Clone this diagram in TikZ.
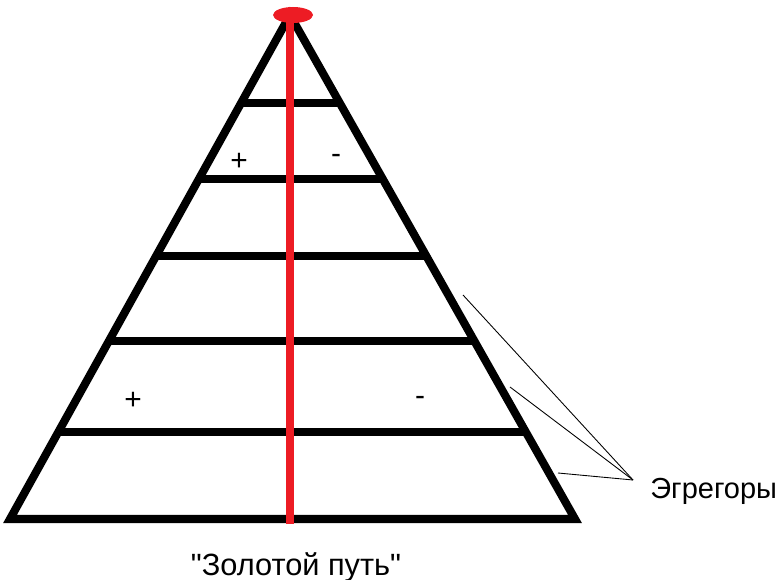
\documentclass[tikz,border=0pt]{standalone}
\usepackage{fontspec}
\setmainfont{Liberation Sans}
\usetikzlibrary{positioning, calc}
\definecolor{paintred}{HTML}{ED1C24}

\begin{document}
\begin{tikzpicture}[
    x=0.02cm, y=-0.02cm,
    wall/.style={line width=4.6pt, line join=miter, line cap=butt},
    rung/.style={line width=4.6pt},
    path/.style={draw=paintred, line width=4.6pt},
    leader/.style={line width=0.5pt},
    sign/.style={inner sep=0pt, font=\fontsize{17}{17}\selectfont},
    caption/.style={inner sep=0pt, anchor=base west, font=\fontsize{16.5}{19}\selectfont}
]
\useasboundingbox (0,0) rectangle (780,580);

% pyramid corners
\coordinate (apex) at (290,15);
\coordinate (bl) at (10,519);
\coordinate (br) at (575,519);
\coordinate (foot) at (290,524);

\draw[wall] (apex) -- (bl) -- (br) -- cycle;
\foreach \y in {103,179,256,341,432}
    \draw[rung] ($(apex)!{(\y-15)/504}!(bl)$) -- ($(apex)!{(\y-15)/504}!(br)$);

% golden path
\draw[path] (apex) -- (foot);
\fill[paintred] (293,15) ellipse [x radius=20, y radius=8];

% signs
\node[sign] (p1) at (239,162) {+};
\node[sign] (m1) at (336,159) {-};
\node[sign] (p2) at (133,401) {+};
\node[sign] (m2) at (420,401) {-};

% egregors
\node[caption] (egr) at (650,498) {Эгрегоры};
\coordinate (hub) at (633,480);
\coordinate (e1) at (463,295);
\coordinate (e2) at (510,387);
\coordinate (e3) at (558,473);
\draw[leader] (hub) -- (e1);
\draw[leader] (hub) -- (e2);
\draw[leader] (hub) -- (e3);

\node[caption, anchor=base, font=\fontsize{17.5}{20}\selectfont] (gold) at (296,575) {\textquotedbl Золотой путь\textquotedbl};
\end{tikzpicture}
\end{document}
